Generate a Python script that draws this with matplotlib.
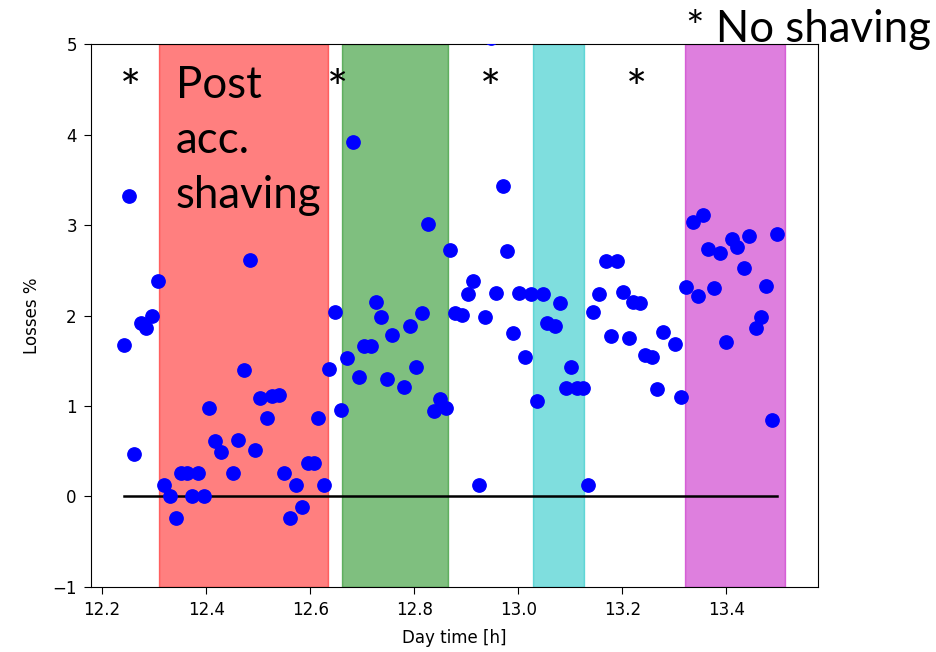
import numpy as np
import matplotlib
matplotlib.use('Agg')
import matplotlib.pyplot as plt

# measured points (day time in hours, losses in %)
t = [12.242, 12.251, 12.262, 12.274, 12.285, 12.295, 12.307, 12.318, 12.330, 12.342,
     12.352, 12.363, 12.372, 12.384, 12.395, 12.406, 12.417, 12.429, 12.451, 12.462,
     12.472, 12.485, 12.493, 12.504, 12.516, 12.527, 12.539, 12.549, 12.561, 12.572,
     12.584, 12.595, 12.607, 12.615, 12.626, 12.637, 12.647, 12.660, 12.671, 12.682,
     12.693, 12.703, 12.716, 12.727, 12.736, 12.747, 12.758, 12.781, 12.792, 12.804,
     12.815, 12.826, 12.838, 12.849, 12.861, 12.868, 12.879, 12.892, 12.903, 12.913,
     12.925, 12.936, 12.947, 12.958, 12.970, 12.979, 12.990, 13.001, 13.013, 13.024,
     13.035, 13.047, 13.056, 13.070, 13.080, 13.091, 13.102, 13.112, 13.124, 13.134,
     13.144, 13.156, 13.168, 13.179, 13.190, 13.201, 13.213, 13.221, 13.233, 13.243,
     13.256, 13.266, 13.278, 13.301, 13.312, 13.322, 13.335, 13.345, 13.354, 13.365,
     13.376, 13.388, 13.399, 13.410, 13.421, 13.433, 13.444, 13.456, 13.467, 13.476,
     13.487, 13.498]
loss = [1.67, 3.32, 0.465, 1.92, 1.86, 2.00, 2.38, 0.124, 0.0, -0.24,
        0.256, 0.256, 0.0, 0.256, 0.0, 0.98, 0.61, 0.49, 0.256, 0.62,
        1.40, 2.61, 0.51, 1.09, 0.865, 1.11, 1.12, 0.256, -0.24, 0.124,
        -0.12, 0.37, 0.37, 0.865, 0.124, 1.41, 2.04, 0.96, 1.53, 3.92,
        1.32, 1.66, 1.66, 2.15, 1.98, 1.30, 1.78, 1.21, 1.88, 1.43,
        2.03, 3.01, 0.94, 1.08, 0.98, 2.72, 2.03, 2.01, 2.24, 2.38,
        0.124, 1.98, 5.07, 2.25, 3.43, 2.71, 1.81, 2.25, 1.54, 2.24,
        1.06, 2.24, 1.92, 1.88, 2.14, 1.20, 1.43, 1.20, 1.20, 0.124,
        2.04, 2.24, 2.60, 1.77, 2.60, 2.26, 1.75, 2.15, 2.14, 1.56,
        1.54, 1.19, 1.82, 1.69, 1.10, 2.32, 3.03, 2.22, 3.11, 2.74,
        2.30, 2.69, 1.71, 2.84, 2.76, 2.52, 2.88, 1.86, 1.98, 2.33,
        0.85, 2.90]

# shaded periods
span_start = [12.310, 12.662, 13.028, 13.320]
span_end = [12.635, 12.864, 13.126, 13.512]
span_col = ['red', 'green', 'c', 'm']

# "no shaving" markers
star_x = [12.255, 12.652, 12.947, 13.228]

fig = plt.figure(figsize=(9.37, 6.52), dpi=100)
ax = fig.add_axes([0.0968, 0.0997, 0.7762, 0.8328])

for a, b, c in zip(span_start, span_end, span_col):
    ax.axvspan(a, b, color=c, alpha=0.5)

ax.plot([min(t), max(t)], [0, 0], color='black', lw=1.8)
ax.scatter(t, loss, s=92, color='blue', zorder=3)

ax.set_xlim(12.178, 13.576)
ax.set_ylim(-1, 5)
ax.set_xticks([12.2, 12.4, 12.6, 12.8, 13.0, 13.2, 13.4])
ax.tick_params(labelsize=12, length=5, pad=5)
ax.set_xlabel('Day time [h]', fontsize=12, labelpad=7)
ax.set_ylabel('Losses %', fontsize=12, labelpad=8)

for sx in star_x:
    ax.text(sx, 4.47, '*', fontsize=36, family='Lato', ha='center', va='center')

ax.text(12.341, 4.765, 'Post\nacc.\nshaving', fontsize=31.5, family='Lato',
        ha='left', va='top', linespacing=1.42)

fig.text(0.732, 0.955, '* No shaving', fontsize=31.5, family='Lato',
         ha='left', va='center')

fig.savefig('out.png', dpi=100)
